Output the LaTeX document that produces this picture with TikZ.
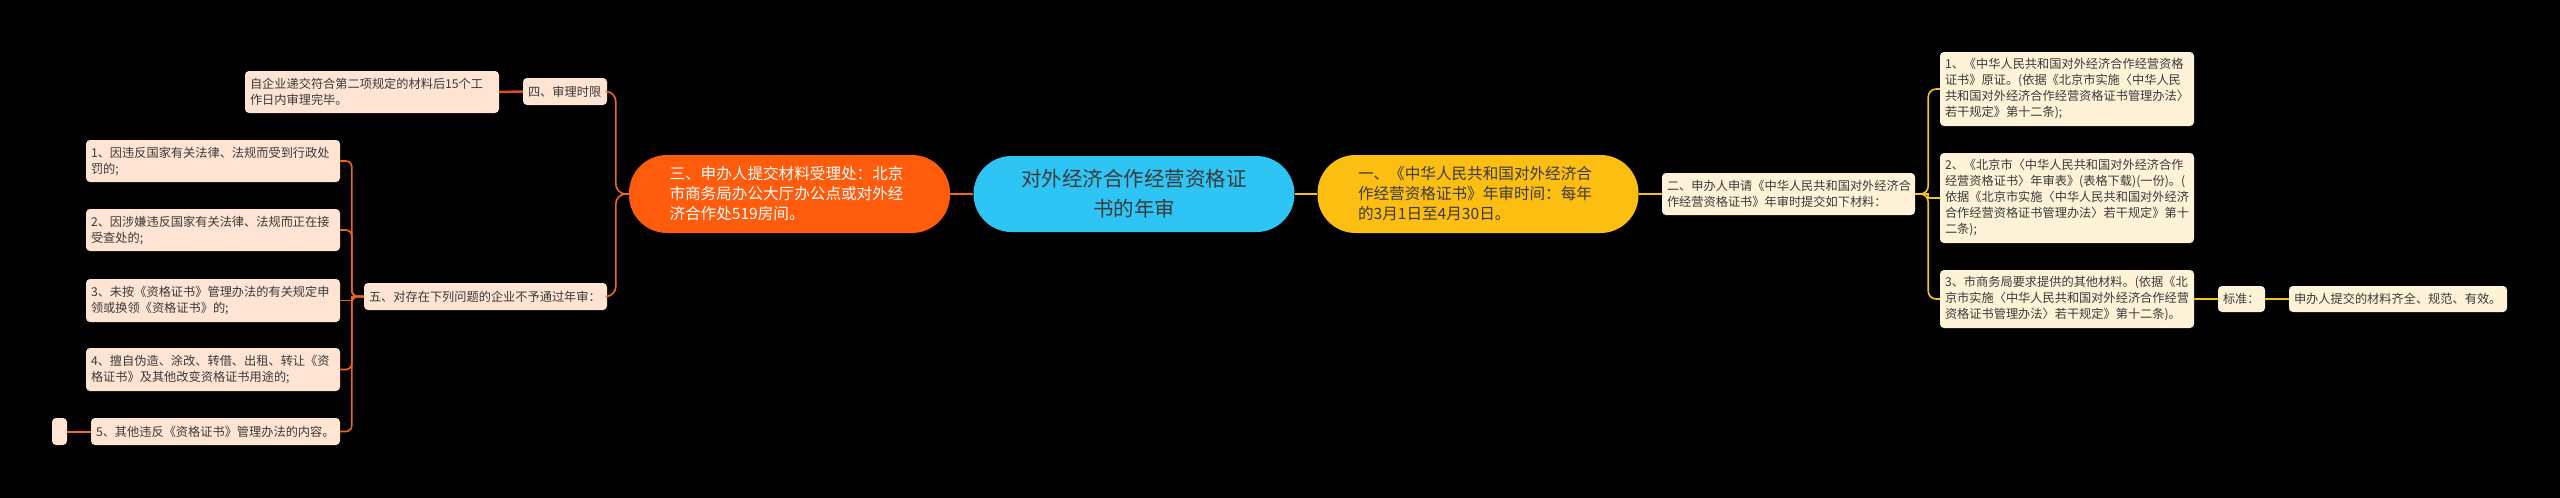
\documentclass[tikz,border=0pt]{standalone}
\usepackage{fontspec}
\setmainfont{Noto Sans CJK SC}
\definecolor{peach}{HTML}{FFE3D3}
\definecolor{cream}{HTML}{FFF3D7}
\definecolor{txt}{HTML}{3A3A3A}
\definecolor{pillorange}{HTML}{FF5B0D}
\definecolor{pillcyan}{HTML}{2EC5F4}
\definecolor{pillyellow}{HTML}{FDBE12}
\definecolor{lorange}{HTML}{EE6620}
\definecolor{redorange}{HTML}{DD4A1C}
\definecolor{ryellow}{HTML}{F5C31A}
\tikzset{
  base/.style={inner xsep=5pt, inner ysep=0pt, rounded corners=4pt, align=left, text=txt, font=\fontsize{12.2}{16}\selectfont},
  lleaf/.style={base, fill=peach},
  rleaf/.style={base, fill=cream},
  pill/.style={rounded corners=38pt, inner sep=0pt, minimum height=78pt, minimum width=321pt, text width=240pt},
  lline/.style={draw=lorange, line width=2pt},
  rline/.style={draw=ryellow, line width=2pt},
}
\begin{document}
\begin{tikzpicture}[x=1pt,y=-1pt]
\fill[black] (0,0) rectangle (2560,498);
\useasboundingbox (0,0) rectangle (2560,498);

% center and main branches
\node[pill, fill=pillcyan, text=txt, align=center, minimum height=76pt, font=\fontsize{20.5}{30}\selectfont] (C) at (1134,194) {对外经济合作经营资格证\\书的年审};
\node[pill, fill=pillorange, text=white, align=left, font=\fontsize{15.6}{20}\selectfont] (s3) at (789.5,194) {三、申办人提交材料受理处：北京\\市商务局办公大厅办公点或对外经\\济合作处519房间。};
\node[pill, fill=pillyellow, text=txt, align=left, font=\fontsize{15.6}{20}\selectfont] (s1) at (1478,194) {一、《中华人民共和国对外经济合\\作经营资格证书》年审时间：每年\\的3月1日至4月30日。};

% left side
\node[lleaf, text width=74pt, minimum height=27pt] (s4) at (565,91.5) {四、审理时限};
\node[lleaf, text width=244pt, minimum height=42pt] (zq) at (372,92) {自企业递交符合第二项规定的材料后15个工\\作日内审理完毕。};
\node[lleaf, text width=233pt, minimum height=27pt] (s5) at (485.5,296.5) {五、对存在下列问题的企业不予通过年审：};
\node[lleaf, text width=244pt, minimum height=42pt] (L1) at (213,161) {1、因违反国家有关法律、法规而受到行政处\\罚的;};
\node[lleaf, text width=244pt, minimum height=42pt] (L2) at (213,230) {2、因涉嫌违反国家有关法律、法规而正在接\\受查处的;};
\node[lleaf, text width=244pt, minimum height=43pt] (L3) at (213,300.5) {3、未按《资格证书》管理办法的有关规定申\\领或换领《资格证书》的;};
\node[lleaf, text width=244pt, minimum height=43pt] (L4) at (213,369.5) {4、擅自伪造、涂改、转借、出租、转让《资\\格证书》及其他改变资格证书用途的;};
\node[lleaf, text width=239pt, minimum height=27pt] (L5) at (215.5,431.5) {5、其他违反《资格证书》管理办法的内容。};
\node[lleaf, inner sep=0pt, minimum width=15pt, minimum height=27pt] (E) at (59.5,431.5) {};

% right side
\node[rleaf, text width=243pt, minimum height=42pt] (s2) at (1788.5,194) {二、申办人申请《中华人民共和国对外经济合\\作经营资格证书》年审时提交如下材料：};
\node[rleaf, text width=244pt, minimum height=74pt] (R1) at (2067,89) {1、《中华人民共和国对外经济合作经营资格\\证书》原证。(依据《北京市实施〈中华人民\\共和国对外经济合作经营资格证书管理办法〉\\若干规定》第十二条);};
\node[rleaf, text width=244pt, minimum height=90pt] (R2) at (2067,198) {2、《北京市〈中华人民共和国对外经济合作\\经营资格证书〉年审表》(表格下载)(一份)。(\\依据《北京市实施〈中华人民共和国对外经济\\合作经营资格证书管理办法〉若干规定》第十\\二条);};
\node[rleaf, text width=244pt, minimum height=58pt] (R3) at (2067,299) {3、市商务局要求提供的其他材料。(依据《北\\京市实施〈中华人民共和国对外经济合作经营\\资格证书管理办法〉若干规定》第十二条)。};
\node[rleaf, text width=37pt, minimum height=26pt] (bz) at (2241.5,299) {标准：};
\node[rleaf, text width=208pt, minimum height=26pt] (sb) at (2398,299) {申办人提交的材料齐全、规范、有效。};

% connectors
\draw[lline] (C.west) -- (s3.east);
\draw[rline] (C.east) -- (s1.west);
\draw[lline, line width=1.6pt, rounded corners=10pt] (s3.west) -- ++(-13pt,0) |- (s4.east);
\draw[lline, line width=1.6pt, rounded corners=10pt] (s3.west) -- ++(-13pt,0) |- (s5.east);
\draw[draw=redorange, line width=2.5pt] (s4.west) -- (zq.east);
\foreach \n in {L1,L2,L4,L5}{
  \draw[lline, line width=1.6pt, rounded corners=6pt] (s5.west) -- ++(-12pt,0) |- (\n.east);
}
\draw[lline, line width=1.6pt] (s5.west) -- ++(-12pt,0) |- (L3.east);
\draw[lline] (L5.west) -- (E.east);
\draw[rline] (s1.east) -- (s2.west);
\foreach \n in {R1,R3}{
  \draw[rline, line width=1.6pt, rounded corners=8pt] (s2.east) -- ++(13pt,0) |- (\n.west);
}
\draw[rline, line width=1.6pt] (s2.east) -- ++(13pt,0) |- (R2.west);
\draw[rline] (R3.east) -- (bz.west);
\draw[rline] (bz.east) -- (sb.west);
\end{tikzpicture}
\end{document}
